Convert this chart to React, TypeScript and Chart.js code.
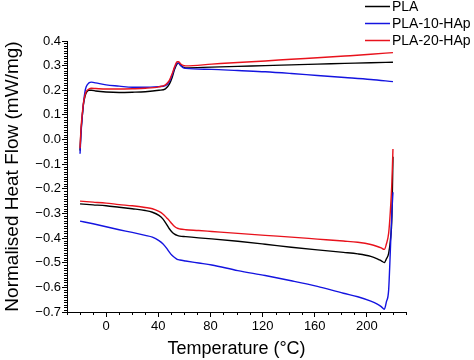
import React, { useEffect, useRef } from 'react';
import { Chart, registerables } from 'chart.js';

Chart.register(...registerables);

// Heating segment (upper curves)
const heatTemp = [-20, -19.3, -18.2, -17.2, -16.2, -15.2, -13.2, -11.2, -8, 0, 10, 20, 30, 40.5, 45.5, 48.5, 50.5, 52.5, 54.5, 55.5, 57, 59, 61, 81, 101, 122, 142, 162, 183, 203, 220];
const plaHeat = [-0.045, 0.03, 0.1, 0.15, 0.175, 0.19, 0.2, 0.2, 0.197, 0.193, 0.191, 0.192, 0.194, 0.2, 0.206, 0.225, 0.25, 0.285, 0.308, 0.31, 0.302, 0.294, 0.291, 0.294, 0.297, 0.3, 0.303, 0.306, 0.309, 0.312, 0.314];
const pla10Heat = [-0.058, 0.02, 0.1, 0.155, 0.195, 0.215, 0.23, 0.233, 0.23, 0.222, 0.217, 0.212, 0.212, 0.215, 0.219, 0.235, 0.26, 0.29, 0.31, 0.31, 0.302, 0.292, 0.289, 0.285, 0.28, 0.275, 0.268, 0.26, 0.252, 0.244, 0.235];
const pla20Heat = [-0.035, 0.04, 0.11, 0.155, 0.18, 0.195, 0.205, 0.208, 0.207, 0.205, 0.205, 0.206, 0.208, 0.214, 0.222, 0.24, 0.265, 0.295, 0.316, 0.316, 0.308, 0.301, 0.299, 0.306, 0.313, 0.319, 0.326, 0.332, 0.339, 0.346, 0.353];

// Cooling segment (lower curves)
const coolTemp = [-20, -10, 0, 10, 20, 30, 35.5, 40.5, 43.5, 46.5, 48.5, 50.5, 52.5, 54.5, 56.5, 61, 71, 81, 101, 122, 142, 162, 182, 193, 203, 208, 211, 213.4, 214.9, 216.7, 218, 219.2, 220];
const plaCool = [-0.261, -0.265, -0.269, -0.275, -0.281, -0.288, -0.295, -0.308, -0.322, -0.345, -0.362, -0.375, -0.384, -0.389, -0.392, -0.394, -0.399, -0.403, -0.413, -0.425, -0.437, -0.448, -0.458, -0.464, -0.474, -0.484, -0.492, -0.499, -0.485, -0.462, -0.41, -0.31, -0.07];
const pla10Cool = [-0.331, -0.342, -0.354, -0.366, -0.377, -0.389, -0.396, -0.41, -0.423, -0.442, -0.457, -0.47, -0.479, -0.486, -0.489, -0.493, -0.501, -0.509, -0.532, -0.552, -0.573, -0.596, -0.624, -0.638, -0.656, -0.668, -0.678, -0.689, -0.66, -0.61, -0.45, -0.29, -0.214];
const pla20Cool = [-0.25, -0.254, -0.258, -0.264, -0.269, -0.276, -0.281, -0.292, -0.302, -0.318, -0.329, -0.342, -0.353, -0.36, -0.363, -0.366, -0.369, -0.373, -0.381, -0.389, -0.396, -0.404, -0.412, -0.417, -0.426, -0.434, -0.44, -0.446, -0.425, -0.38, -0.29, -0.17, -0.038];

const seriesNames = ['PLA', 'PLA-10-HAp', 'PLA-20-HAp'];
const seriesColors = ['#000000', '#1414e0', '#e8121c'];

const xTicks = [0, 40, 80, 120, 160, 200];
const yTicks = [-0.7, -0.6, -0.5, -0.4, -0.3, -0.2, -0.1, 0, 0.1, 0.2, 0.3, 0.4];

const FONT = "'Liberation Sans', Arial, sans-serif";

const toPts = (xs: number[], ys: number[]) => xs.map((x, i) => ({ x, y: ys[i] }));

const fmtY = (v: number) => {
  if (Math.abs(v) < 1e-9) return '0.0';
  return v < 0 ? '\u2212' + Math.abs(v).toFixed(1) : v.toFixed(1);
};

const extrasPlugin = {
  id: 'extras',
  afterDraw(chart: any) {
    const { ctx, chartArea } = chart;
    const x = chart.scales.x;
    const y = chart.scales.y;
    ctx.save();
    ctx.strokeStyle = '#000';
    ctx.lineWidth = 1;
    ctx.beginPath();
    for (let t = -30; t <= 230; t += 10) {
      if (xTicks.includes(t)) continue;
      const px = Math.round(x.getPixelForValue(t)) + 0.5;
      ctx.moveTo(px, chartArea.bottom);
      ctx.lineTo(px, chartArea.bottom + 3);
    }
    for (let i = -70; i <= 40; i++) {
      if (i % 10 === 0) continue;
      const py = Math.round(y.getPixelForValue(i / 100)) + 0.5;
      ctx.moveTo(chartArea.left, py);
      ctx.lineTo(chartArea.left - 3, py);
    }
    ctx.stroke();

    // legend
    const rows = [6, 23, 40];
    ctx.font = `14px ${FONT}`;
    ctx.textBaseline = 'middle';
    ctx.textAlign = 'left';
    seriesNames.forEach((name, i) => {
      ctx.strokeStyle = seriesColors[i];
      ctx.lineWidth = 1.5;
      ctx.beginPath();
      ctx.moveTo(365, rows[i] + 0.5);
      ctx.lineTo(390, rows[i] + 0.5);
      ctx.stroke();
      ctx.fillStyle = '#000';
      ctx.fillText(name, 392, rows[i] + 1);
    });
    ctx.restore();
  },
};

export default function App() {
  const ref = useRef<HTMLCanvasElement | null>(null);

  useEffect(() => {
    document.body.style.margin = '0';
    if (!ref.current) return;
    const heat = [plaHeat, pla10Heat, pla20Heat];
    const cool = [plaCool, pla10Cool, pla20Cool];
    const orders = [2, 1, 0];
    const datasets: any[] = [];
    seriesNames.forEach((name, i) => {
      datasets.push({
        label: name,
        data: toPts(heatTemp, heat[i]),
        borderColor: seriesColors[i],
        borderWidth: 1.4,
        pointRadius: 0,
        showLine: true,
        fill: false,
        tension: 0,
        cubicInterpolationMode: 'monotone',
        order: orders[i],
      });
      datasets.push({
        label: name + ' cool',
        data: toPts(coolTemp, cool[i]),
        borderColor: seriesColors[i],
        borderWidth: 1.4,
        pointRadius: 0,
        showLine: true,
        fill: false,
        cubicInterpolationMode: 'monotone',
        order: orders[i],
      });
    });

    const chart = new Chart(ref.current, {
      type: 'scatter',
      data: { datasets },
      options: {
        animation: false,
        responsive: false,
        maintainAspectRatio: false,
        layout: { padding: { top: 41, right: 68, left: 0, bottom: 0 } },
        plugins: { legend: { display: false }, tooltip: { enabled: false } },
        scales: {
          x: {
            type: 'linear',
            min: -30,
            max: 230,
            afterBuildTicks: (s: any) => { s.ticks = xTicks.map((v) => ({ value: v })); },
            afterFit: (s: any) => { s.height = 48; },
            grid: { drawOnChartArea: false, drawTicks: true, tickLength: 5, color: '#000', lineWidth: 1 },
            border: { display: true, color: '#000', width: 1 },
            ticks: {
              autoSkip: false,
              maxRotation: 0,
              padding: 2,
              color: '#000',
              font: { family: FONT, size: 13 },
              callback: (v: any) => String(v),
            },
            title: {
              display: true,
              text: 'Temperature (°C)',
              color: '#000',
              font: { family: FONT, size: 18 },
              padding: { top: 0, bottom: 0 },
            },
          },
          y: {
            type: 'linear',
            min: -0.7,
            max: 0.4,
            afterBuildTicks: (s: any) => { s.ticks = yTicks.map((v) => ({ value: v })); },
            afterFit: (s: any) => { s.width = 67; },
            grid: { drawOnChartArea: false, drawTicks: true, tickLength: 5, color: '#000', lineWidth: 1 },
            border: { display: true, color: '#000', width: 1 },
            ticks: {
              autoSkip: false,
              padding: 1,
              color: '#000',
              font: { family: FONT, size: 13 },
              callback: (v: any) => fmtY(Number(v)),
            },
            title: {
              display: true,
              text: 'Normalised Heat Flow (mW/mg)',
              color: '#000',
              font: { family: FONT, size: 19 },
              padding: { top: 1, bottom: 0 },
            },
          },
        },
      },
      plugins: [extrasPlugin],
    } as any);
    return () => chart.destroy();
  }, []);

  return (
    <div style={{ width: 474, height: 360, position: 'relative' }}>
      <canvas ref={ref} width={474} height={360} style={{ display: 'block' }} />
    </div>
  );
}
